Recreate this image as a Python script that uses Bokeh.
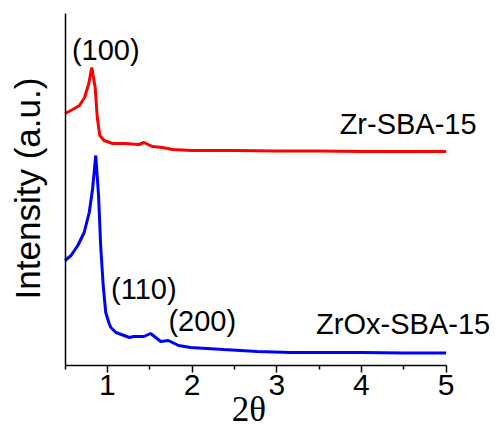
from math import pi
from bokeh.plotting import figure
from bokeh.models import Range1d, FixedTicker, Label
from bokeh.embed import file_html
from bokeh.resources import INLINE

# ---- data (2theta vs intensity, arbitrary units) ----
x_red = [0.50, 0.59, 0.67, 0.73, 0.78, 0.815, 0.855, 0.88, 0.91, 0.96, 1.06, 1.20,
         1.375, 1.43, 1.53, 1.65, 1.77, 2.00, 2.5, 3.0, 3.5, 4.0, 4.5, 5.0]
y_red = [252, 256, 260, 268, 282, 298, 278, 248, 230, 225, 222, 222,
         221, 223, 219, 218, 216, 215, 215, 214.5, 214.5, 214, 214, 214]

x_blue = [0.50, 0.57, 0.65, 0.725, 0.785, 0.825, 0.862, 0.895, 0.92, 0.95, 0.98, 1.02,
          1.04, 1.10, 1.26, 1.31, 1.43, 1.51, 1.63, 1.72, 1.84, 1.98, 2.37, 2.77,
          3.16, 3.5, 4.0, 4.5, 5.0]
y_blue = [105, 110, 120, 133, 153, 177, 210, 170, 120, 80, 53, 42,
          38, 33, 28, 29, 29, 32, 24, 25, 20, 18, 16, 14,
          13, 13, 13, 12.5, 12.5]

x_ticks = [1, 2, 3, 4, 5]
x_minor = [0.5, 1.5, 2.5, 3.5, 4.5]
series_names = ["Zr-SBA-15", "ZrOx-SBA-15"]
peak_labels = ["(100)", "(110)", "(200)"]

SANS = "Liberation Sans"
SERIF = "Liberation Serif"

# the frame covers the whole canvas; axes are pinned at x=0.5 and y=0
p = figure(width=496, height=431, output_backend="svg", toolbar_location=None,
           x_range=Range1d(-0.263, 5.595), y_range=Range1d(-66, 365),
           min_border_left=0, min_border_right=0, min_border_top=0,
           min_border_bottom=0)
p.outline_line_color = None
p.xgrid.visible = False
p.ygrid.visible = False
p.background_fill_color = "white"
p.border_fill_color = "white"

p.line(x_red, y_red, line_color="#FF0000", line_width=3)
p.line(x_blue, y_blue, line_color="#0000FF", line_width=3)

xa = p.xaxis[0]
xa.fixed_location = 0
xa.bounds = (0.5, 5)
xa.ticker = FixedTicker(ticks=x_ticks, minor_ticks=x_minor)
xa.axis_line_color = "black"
xa.axis_line_width = 1.5
xa.major_tick_line_color = "black"
xa.major_tick_line_width = 1.5
xa.minor_tick_line_color = "black"
xa.minor_tick_line_width = 1.5
xa.major_tick_in = 0
xa.major_tick_out = 7
xa.minor_tick_in = 0
xa.minor_tick_out = 4
xa.major_label_standoff = 2
xa.major_label_text_font = SANS
xa.major_label_text_font_size = "30px"
xa.major_label_text_color = "black"

ya = p.yaxis[0]
ya.fixed_location = 0.5
ya.bounds = (0, 352)
ya.ticker = FixedTicker(ticks=[])
ya.axis_line_color = "black"
ya.axis_line_width = 1.5
ya.major_tick_out = 0
ya.major_tick_in = 0
ya.minor_tick_out = 0
ya.minor_tick_in = 0
ya.major_label_text_font_size = "0px"

# axis titles
p.add_layout(Label(x=2.67, y=-44, text="2θ", text_font=SERIF,
                   text_font_size="35px", text_align="center",
                   text_baseline="alphabetic", text_color="black"))
p.add_layout(Label(x=0.05, y=177, text="Intensity (a.u.)", angle=pi / 2,
                   text_font=SANS, text_font_size="35px",
                   text_align="center", text_baseline="alphabetic",
                   text_color="black"))

# series names (right edges as in the reference)
p.add_layout(Label(x=5.36, y=226, text=series_names[0], text_font=SANS,
                   text_font_size="29px", text_align="right", text_color="black"))
p.add_layout(Label(x=5.52, y=26, text=series_names[1], text_font=SANS,
                   text_font_size="29px", text_align="right", text_color="black"))

# peak indices (centred as in the reference)
p.add_layout(Label(x=0.98, y=300, text=peak_labels[0], text_font=SANS,
                   text_font_size="29px", text_align="center", text_color="black"))
p.add_layout(Label(x=1.43, y=61, text=peak_labels[1], text_font=SANS,
                   text_font_size="29px", text_align="center", text_color="black"))
p.add_layout(Label(x=2.12, y=29, text=peak_labels[2], text_font=SANS,
                   text_font_size="29px", text_align="center", text_color="black"))

open("out.html", "w").write(file_html(p, INLINE))
